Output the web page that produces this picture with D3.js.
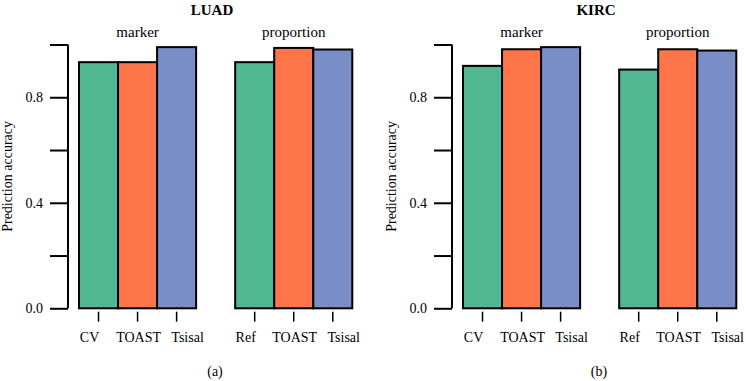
<!DOCTYPE html>
<html>
<head>
<meta charset="utf-8">
<script src="https://cdn.jsdelivr.net/npm/d3@7"></script>
<style>
  html, body { margin: 0; padding: 0; background: #fff; }
  svg { display: block; }
  text { font-family: "Liberation Serif", "Times New Roman", serif; fill: #000; }
</style>
</head>
<body>
<svg id="chart" width="746" height="381"></svg>
<script>
// ---- data ----
const panels = ["LUAD", "KIRC"];
const panelTags = ["(a)", "(b)"];
const groups = ["marker", "proportion"];
const methodsByGroup = [["CV", "TOAST", "Tsisal"], ["Ref", "TOAST", "Tsisal"]];
const luadValues = [[0.933, 0.933, 0.990], [0.933, 0.987, 0.981]];
const kircValues = [[0.919, 0.982, 0.990], [0.905, 0.982, 0.977]];
const panelValues = [luadValues, kircValues];
const yTicks = [0, 0.2, 0.4, 0.6, 0.8, 1.0];
const yTickLabels = ["0.0", "", "0.4", "", "0.8", ""];
const yLabel = "Prediction accuracy";

const colors = ["#50b893", "#fd7549", "#798ec6"];

const svg = d3.select("#chart");

const y = d3.scaleLinear().domain([0, 1]).range([308.3, 44.5]);

panels.forEach((name, p) => {
  const ox = p * 384;
  const g = svg.append("g").attr("transform", `translate(${ox},0)`);

  const xGroup = d3.scaleBand().domain(groups).range([79, 352.3]).paddingInner(0.25).paddingOuter(0);

  // title
  g.append("text").attr("x", 212).attr("y", 14.5).attr("text-anchor", "middle")
    .style("font-size", "15px").style("font-weight", "bold").text(name);

  // y axis
  const yAxis = d3.axisLeft(y).tickValues(yTicks).tickSize(18).tickPadding(7)
    .tickFormat((d, i) => yTickLabels[i]);
  const ya = g.append("g").attr("transform", "translate(68,0)").call(yAxis);
  ya.select(".domain").attr("d", `M0,${y(0)}V${y(1)}`).attr("stroke", "#000").attr("stroke-width", 2);
  ya.selectAll(".tick line").attr("stroke", "#000").attr("stroke-width", 2);
  ya.selectAll(".tick text").style("font-size", "14px").style("font-family", "Liberation Serif, serif").attr("fill", "#000");

  // y label
  g.append("text").attr("transform", `translate(12,${(y(0) + y(1)) / 2}) rotate(-90)`)
    .attr("text-anchor", "middle").style("font-size", "14px").text(yLabel);

  groups.forEach((grp, gi) => {
    const methods = methodsByGroup[gi];
    const vals = panelValues[p][gi];
    const xIn = d3.scaleBand().domain(methods).range([0, xGroup.bandwidth()]).padding(0);
    const gg = g.append("g").attr("transform", `translate(${xGroup(grp)},0)`);

    // group label
    gg.append("text").attr("x", xGroup.bandwidth() / 2).attr("y", 36.5).attr("text-anchor", "middle")
      .style("font-size", "15px").text(grp);

    gg.selectAll("rect").data(methods).join("rect")
      .attr("x", d => xIn(d))
      .attr("width", xIn.bandwidth())
      .attr("y", (d, i) => y(vals[i]))
      .attr("height", (d, i) => y(0) - y(vals[i]))
      .attr("fill", (d, i) => colors[i])
      .attr("stroke", "#000").attr("stroke-width", 2);

    // x ticks
    const xAxis = d3.axisBottom(xIn).tickSize(10).tickFormat("");
    const xa = gg.append("g").attr("transform", `translate(0,${y(0) + 3.4})`).call(xAxis);
    xa.select(".domain").remove();
    xa.selectAll(".tick line").attr("stroke", "#000").attr("stroke-width", 1.5);

    // x labels (spread slightly wider than bars, as in the original)
    const xLab = d3.scalePoint().domain(methods).range([xGroup.bandwidth() / 2 - 48, xGroup.bandwidth() / 2 + 50]);
    gg.selectAll("text.xl").data(methods).join("text").attr("class", "xl")
      .attr("x", d => xLab(d)).attr("y", 342).attr("text-anchor", "middle")
      .style("font-size", "14px").text(d => d);
  });

  g.append("text").attr("x", 215).attr("y", 375.5).attr("text-anchor", "middle")
    .style("font-size", "14px").text(panelTags[p]);
});
</script>
</body>
</html>
